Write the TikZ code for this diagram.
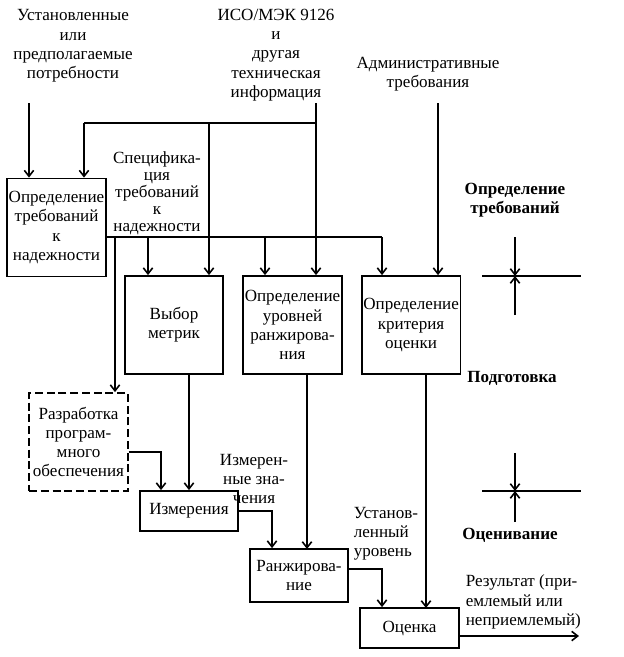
\documentclass[tikz,border=0pt]{standalone}
\usepackage{fontspec}
\setmainfont{Liberation Serif}
\usetikzlibrary{arrows.meta}

\tikzset{
  blk/.style={draw, line width=1.3pt, inner xsep=0pt, inner ysep=1pt, align=center, minimum width=74pt},
  sq/.style={blk, minimum height=73.5pt},
  dev/.style={sq, dash pattern=on 6pt off 2.8pt},
  lbl/.style={inner sep=0pt, align=center},
  hd/.style={inner sep=0pt, align=center, font=\fontsize{12.8}{14.3}\selectfont\bfseries}
}

\begin{document}
\begin{tikzpicture}[x=0.75pt, y=-0.75pt, node distance=88.9pt,
  font=\fontsize{12.8}{14.4}\selectfont, line width=1.2pt,
  >={Straight Barb[length=4.5pt,width=7pt]}]
\useasboundingbox (0,0) rectangle (624,657);

\node (A) [sq] at (56.5,227.5) {Определение\\требований\\к\\надежности};
\node (B) [sq] at (174,325) {Выбор\\метрик};
\node (C) [sq, right of=B] {Определение\\уровней\\ранжирова-\\ния};
\node (D) [sq, right of=C] {Определение\\критерия\\оценки};
\node (E) [dev] at (78.5,442) {Разработка\\програм-\\много\\обеспечения};
\node (F) [blk, minimum height=30pt] at (189,511) {Измерения};
\node (G) [blk, minimum height=39.75pt] at (299,575.5) {Ранжирова-\\ние};
\node (H) [blk, minimum height=30pt] at (409.5,628) {Оценка};

\node (N) [lbl] at (73,46) {Установленные\\или\\предполагаемые\\потребности};
\node (I) [lbl] at (276,55) {ИСО/МЭК 9126\\и\\другая\\техническая\\информация};
\node (M) [lbl] at (428,74) {Административные\\требования};
\node (S) [lbl, font=\fontsize{12.8}{12.8}\selectfont] at (157,193) {Специфика-\\ция\\требований\\к\\надежности};
\node (V) [lbl] at (254,479) {Измерен-\\ные зна-\\чения};
\node (U) [lbl, align=left, anchor=west] at (353,534) {Установ-\\ленный\\уровень};
\node (R) [lbl, align=left, anchor=west] at (465,602) {Результат (при-\\емлемый или\\неприемлемый)};
\node (K1) [hd] at (515,200) {Определение\\требований};
\node (K2) [hd] at (512,378) {Подготовка};
\node (K3) [hd] at (510,535) {Оценивание};

\coordinate (n0) at (29,103);
\coordinate (i0) at (316,103);
\coordinate (m0) at (438,103);
\coordinate (i1) at (84,123);
\coordinate (i2) at (209,123);
\coordinate (i3) at (316,123);
\coordinate (s1) at (115,237);
\coordinate (s2) at (148,237);
\coordinate (s3) at (265,237);
\coordinate (s4) at (382,237);
\coordinate (e1) at (161,452);
\coordinate (f1) at (272,511);
\coordinate (c1) at (307,549);
\coordinate (g1) at (382,569);
\coordinate (d1) at (426,608);
\coordinate (h1) at (579,636);

\draw[->] (n0) -- (n0 |- A.north);
\draw[->] (i0) -- (i0 |- C.north);
\draw (i3) -- (i1);
\draw[->] (i1) -- (i1 |- A.north);
\draw[->] (i2) -- (i2 |- B.north);
\draw[->] (m0) -- (m0 |- D.north);

\draw (A.east |- s1) -- (s4);
\draw[->] (s1) -- (s1 |- E.north);
\draw[->] (s2) -- (s2 |- B.north);
\draw[->] (s3) -- (s3 |- C.north);
\draw[->] (s4) -- (s4 |- D.north);

\draw[->] (F.north |- B.south) -- (F.north);
\draw[->] (E.east |- e1) -| (F.north -| e1);
\draw[->] (F.east) -| (G.north -| f1);
\draw[->] (C.south -| c1) -- (c1);
\draw[->] (G.east |- g1) -| (H.north -| g1);
\draw[->] (D.south -| d1) -- (d1);
\draw[->] (H.east |- h1) -- (h1);

\draw (482,276) -- (581,276);
\draw[->] (515,237) -- (515,276);
\draw[->] (515,315) -- (515,276);
\draw (482,491) -- (581,491);
\draw[->] (515,453) -- (515,491);
\draw[->] (515,522) -- (515,491);
\end{tikzpicture}
\end{document}
